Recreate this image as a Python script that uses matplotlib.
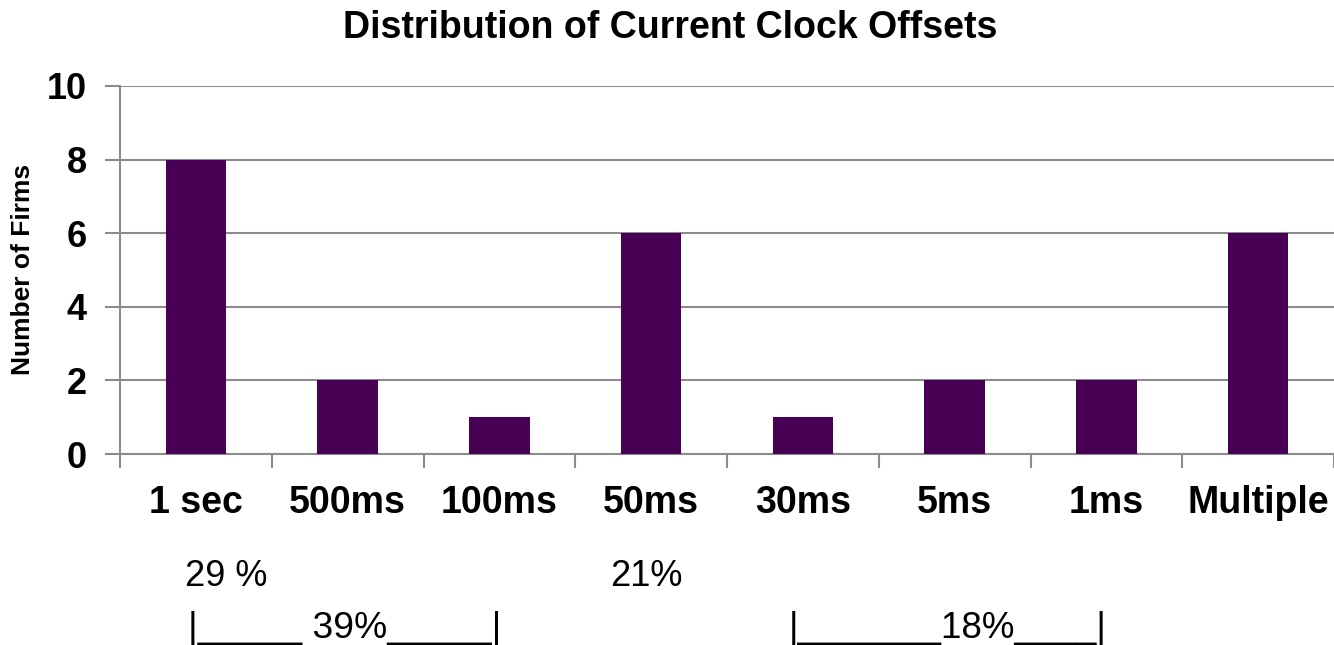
import matplotlib
matplotlib.use('agg')
import matplotlib.pyplot as plt
import numpy as np

categories = ['1 sec', '500ms', '100ms', '50ms', '30ms', '5ms', '1ms', 'Multiple']
firms = [8, 2, 1, 6, 1, 2, 2, 6]
y_ticks = [0, 2, 4, 6, 8, 10]

bar_color = '#480055'
grid_color = '#8c8c8c'

plt.rcParams['font.family'] = ['Liberation Sans', 'DejaVu Sans']

fig = plt.figure(figsize=(13.34, 6.45), dpi=100)
ax = fig.add_axes([120 / 1334, 1 - 454 / 645, 1 - 120 / 1334, (454 - 86) / 645])

x = np.arange(len(categories))
ax.bar(x, firms, width=0.4, color=bar_color, zorder=3)

ax.set_xlim(-0.5, len(categories) - 0.5)
ax.set_ylim(0, 10)
ax.set_yticks(y_ticks)
ax.set_yticklabels([str(v) for v in y_ticks], fontsize=26, fontweight='bold')
ax.set_xticks(x)
ax.set_xticklabels(categories, fontsize=27, fontweight='bold')
ax.set_xticks(np.arange(-0.5, len(categories)), minor=True)
ax.tick_params(axis='x', which='major', length=0, pad=22)
ax.tick_params(axis='x', which='minor', length=10, width=1.5, color=grid_color, direction='out')
ax.tick_params(axis='y', length=11, width=1.5, color=grid_color, pad=13)

ax.grid(axis='y', color=grid_color, linewidth=1.5, zorder=0)
for side in ['top', 'right']:
    ax.spines[side].set_visible(False)
for side in ['left', 'bottom']:
    ax.spines[side].set_color(grid_color)
    ax.spines[side].set_linewidth(1.5)

fig.text(23 / 1334, 1 - 269 / 645, 'Number of Firms', rotation=90,
         ha='center', va='center', fontsize=19, fontweight='bold')
fig.text(670 / 1334, 1 - 28 / 645, 'Distribution of Current Clock Offsets',
         ha='center', va='center', fontsize=27, fontweight='bold')

fig.text(185 / 1334, 1 - 586 / 645, '29 %', fontsize=26, va='baseline')
fig.text(610 / 1334, 1 - 586 / 645, '21%', fontsize=26, va='baseline')
fig.text(188 / 1334, 1 - 638 / 645, '|_____ 39%_____|', fontsize=26.8, va='baseline')
fig.text(789 / 1334, 1 - 638 / 645, '|_______18%____|', fontsize=26.5, va='baseline')

fig.savefig('out.png', dpi=100)
